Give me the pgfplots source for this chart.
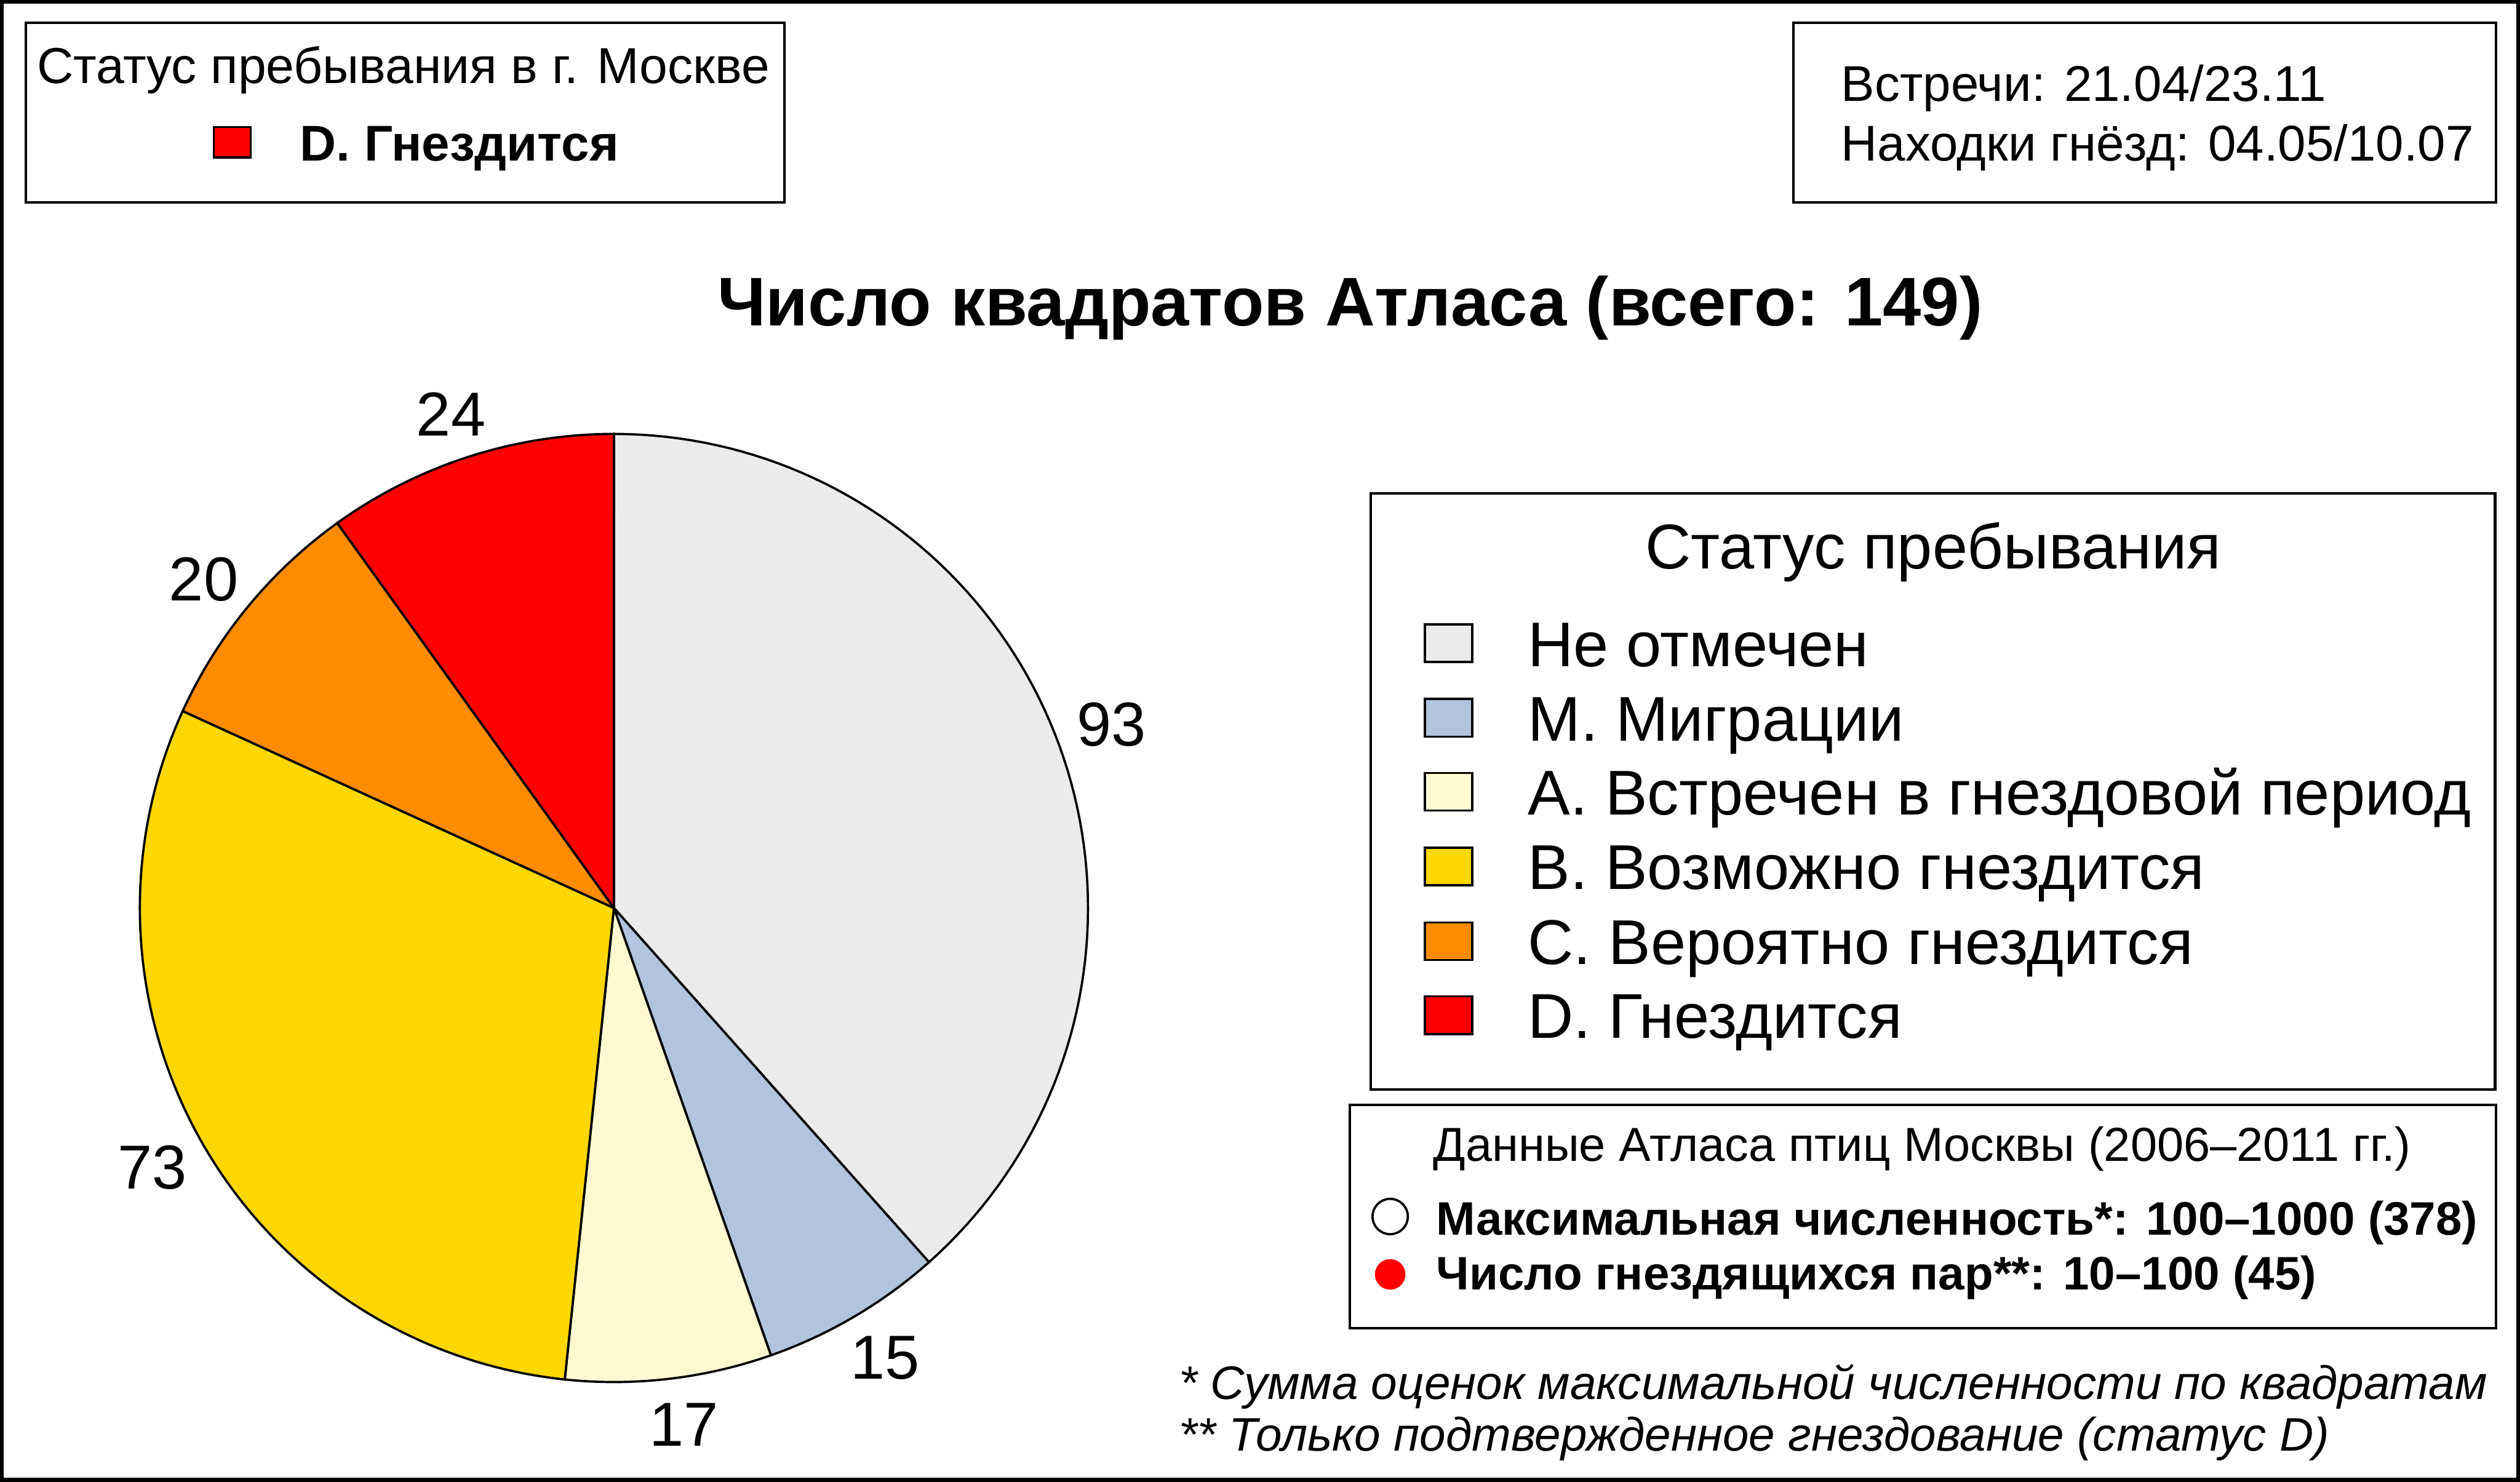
\documentclass[border=0pt]{standalone}
\usepackage{fontspec}
\setmainfont{Liberation Sans}
\usepackage{pgfplots}
\pgfplotsset{compat=1.18}
\usepgfplotslibrary{polar}

\definecolor{cgrey}{HTML}{EBEBEB}
\definecolor{cblue}{HTML}{B0C4DE}
\definecolor{clight}{HTML}{FFF9D2}
\definecolor{cyellow}{HTML}{FFD700}
\definecolor{corange}{HTML}{FF8C00}
\definecolor{cred}{HTML}{FF0000}

\newcommand\fsz[1]{\fontsize{#1}{#1}\selectfont}
\tikzset{pielabel/.style={font=\fsz{11}, inner sep=0pt}}

% one slice: cumulative count before it, its count, colour (total 242),
% label angle nudge, label radius
\newcommand{\slice}[5]{%
  \pgfmathsetmacro\sa{90-(#1+#2)/242*360}%
  \pgfmathsetmacro\sb{90-#1/242*360}%
  \pgfmathsetmacro\sm{90-(#1+#2/2)/242*360+#4}%
  \edef\tmp{\noexpand\addplot[draw=black, line width=0.4pt, fill=#3, domain=\sa:\sb, samples=90] {1} -- (axis cs:0,0) -- cycle;
    \noexpand\node[pielabel] at (axis cs:\sm,#5) {#2};}%
  \tmp}

\begin{document}
\begin{tikzpicture}[x=0.1mm, y=0.1mm]
\useasboundingbox (0,0) rectangle (1568,922);
\draw[line width=0.7pt] (1.2,1.2) rectangle (1566.8,920.8);

% top left box
\draw[line width=0.45pt] (16,908) rectangle (488,796);
\node[anchor=base, inner sep=0pt, font=\fsz{8.95}] at (251,870) {Статус пребывания в г. Москве};
\draw[line width=0.4pt, fill=cred] (133,824) rectangle (156,843);
\node[anchor=base west, inner sep=0pt, font=\fsz{8.9}\bfseries] at (186,822) {D. Гнездится};

% top right box
\draw[line width=0.45pt] (1116,908) rectangle (1553,796);
\node[anchor=base west, inner sep=0pt, font=\fsz{8.9}] at (1145,859) {Встречи: 21.04/23.11};
\node[anchor=base west, inner sep=0pt, font=\fsz{8.9}] at (1145,822) {Находки гнёзд: 04.05/10.07};

% title
\node[anchor=base, inner sep=0pt, font=\fsz{12.2}\bfseries] at (840,719.3) {Число квадратов Атласа (всего: 149)};

% pie
\coordinate (pc) at (382,357);
\begin{polaraxis}[
    at={(pc)}, anchor=center,
    hide axis, scale only axis,
    width=59mm, height=59mm,
    ymin=0, ymax=1,
    xtick=\empty, ytick=\empty,
    clip=false,
]
\slice{0}{93}{cgrey}{-0.6}{1.118}
\slice{93}{15}{cblue}{0.55}{1.108}
\slice{108}{17}{clight}{1.0}{1.1}
\slice{125}{73}{cyellow}{-0.4}{1.117}
\slice{198}{20}{corange}{0.7}{1.109}
\slice{218}{24}{cred}{0.4}{1.097}
\end{polaraxis}

% legend box
\draw[line width=0.45pt] (853,615) rectangle (1552.5,244);
\node[anchor=base, inner sep=0pt, font=\fsz{11.2}] at (1203,568) {Статус пребывания};
\foreach \yy/\cc/\tt in {507.4/cgrey/Не отмечен, 461/cblue/М. Миграции, 415/clight/А. Встречен в гнездовой период, 368.5/cyellow/В. Возможно гнездится, 322/corange/С. Вероятно гнездится, 276/cred/D. Гнездится}{
  \draw[line width=0.4pt, fill=\cc] (886.5,\yy+2.6) rectangle (916,\yy+26);
  \node[anchor=base west, inner sep=0pt, font=\fsz{11.2}] at (950,\yy) {\tt};
}

% lower box
\draw[line width=0.45pt] (840,234.5) rectangle (1553,95.5);
\node[anchor=base, inner sep=0pt, font=\fsz{8.45}] at (1196,199.6) {Данные Атласа птиц Москвы (2006–2011 гг.)};
\draw[line width=0.4pt, fill=white] (865,165) circle (11);
\node[anchor=base west, inner sep=0pt, font=\fsz{8.32}\bfseries] at (893,153.5) {Максимальная численность*: 100–1000 (378)};
\fill[cred] (865,129) circle (9.5);
\node[anchor=base west, inner sep=0pt, font=\fsz{8.32}\bfseries] at (893,119.5) {Число гнездящихся пар**: 10–100 (45)};

% footnotes
\node[anchor=base west, inner sep=0pt, font=\fsz{8.33}\itshape] at (733,51.3) {* Сумма оценок максимальной численности по квадратам};
\node[anchor=base west, inner sep=0pt, font=\fsz{8.33}\itshape] at (733,19) {** Только подтвержденное гнездование (статус D)};
\end{tikzpicture}
\end{document}
